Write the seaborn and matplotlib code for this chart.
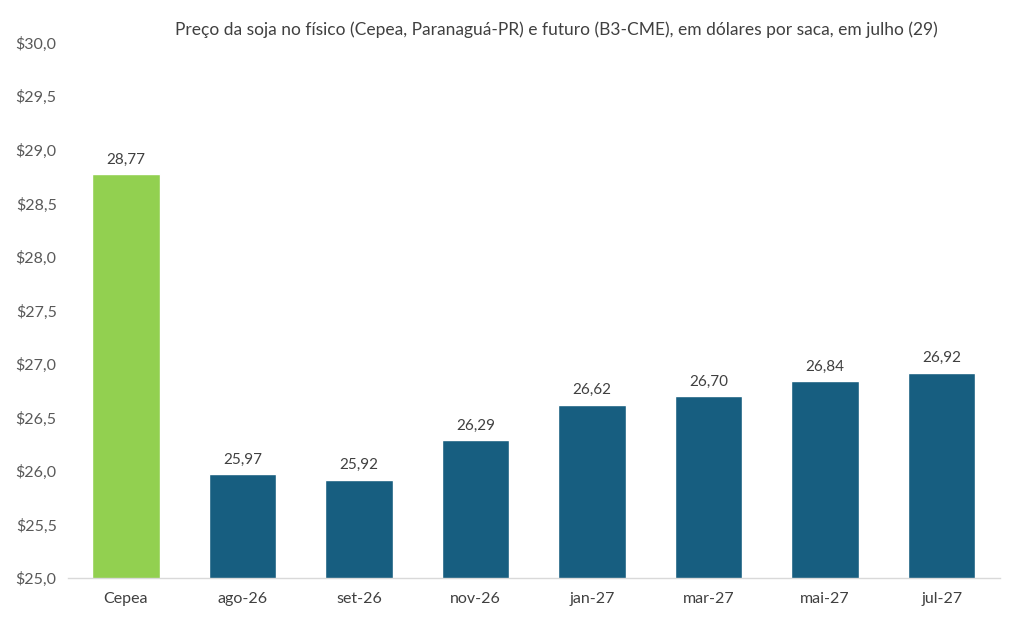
import numpy as np
import pandas as pd
import matplotlib
matplotlib.use("Agg")
import matplotlib.pyplot as plt
import seaborn as sns
from matplotlib.ticker import FuncFormatter, FixedLocator

categorias = ["Cepea", "ago-26", "set-26", "nov-26", "jan-27", "mar-27", "mai-27", "jul-27"]
precos = [28.77, 25.97, 25.92, 26.29, 26.62, 26.70, 26.84, 26.92]
cores = ["#92D050"] + ["#175E80"] * 7

sns.set_style("white")
plt.rcParams['font.family'] = ['Lato', 'DejaVu Sans']

df = pd.DataFrame({"cat": categorias, "preco": precos})

fig = plt.figure(figsize=(10.11, 6.29), dpi=100)
ax = fig.add_axes([0.067, 0.081, 0.922, 0.851])
sns.barplot(data=df, x="cat", y="preco", hue="cat", palette=cores, width=0.58,
            legend=False, ax=ax, saturation=1)

ax.set_ylim(25, 30)
ax.set_xlim(-0.5, len(categorias) - 0.5)
ax.yaxis.set_major_locator(FixedLocator(np.arange(25, 30.01, 0.5)))
ax.yaxis.set_major_formatter(FuncFormatter(lambda v, p: ("$%.1f" % v).replace(".", ",")))
ax.tick_params(axis="y", length=0, labelsize=11.5, colors="#595959", pad=8)
ax.tick_params(axis="x", which="major", length=0, labelsize=11.5, colors="#404040", pad=10)
ax.set_xticks(np.arange(-0.5, len(categorias), 1), minor=True)
ax.tick_params(axis="x", which="minor", length=5, color="#D9D9D9", width=1)
ax.set_xlabel("")
ax.set_ylabel("")

for s in ["top", "right", "left"]:
    ax.spines[s].set_visible(False)
ax.spines["bottom"].set_color("#D9D9D9")
ax.spines["bottom"].set_linewidth(1)

for i, v in enumerate(precos):
    ax.text(i, v + 0.07, ("%.2f" % v).replace(".", ","), ha="center", va="bottom",
            fontsize=11, color="#404040")

fig.text(0.55, 0.952, "Preço da soja no físico (Cepea, Paranaguá-PR) e futuro (B3-CME), em dólares por saca, em julho (29)",
         ha="center", va="center", fontsize=12.5, color="#404040")

fig.savefig("out.png", dpi=100)
